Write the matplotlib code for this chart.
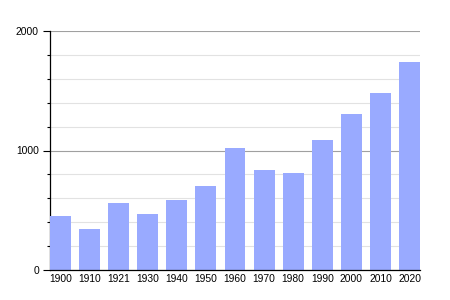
import matplotlib
matplotlib.use("Agg")
import matplotlib.pyplot as plt
from matplotlib.ticker import MultipleLocator

years = ['1900', '1910', '1921', '1930', '1940', '1950', '1960',
         '1970', '1980', '1990', '2000', '2010', '2020']
population = [452, 344, 561, 469, 586, 705, 1019, 836, 811, 1086, 1302, 1477, 1744]

plt.rcParams['font.family'] = ['Liberation Sans', 'DejaVu Sans']

fig = plt.figure(figsize=(4.5, 3), dpi=100)
ax = fig.add_axes([50/450, 30/300, 370/450, 239/300])

w = 0.72
x = range(len(years))
ax.bar(x, population, width=w, color='#99aaff', zorder=3)

ax.set_xlim(-w/2, len(years) - 1 + w/2)
ax.set_ylim(0, 2000)
ax.set_xticks(list(x))
ax.set_xticklabels(years, fontsize=7.4)
ax.tick_params(axis='x', length=0, pad=3)

ax.yaxis.set_major_locator(MultipleLocator(1000))
ax.yaxis.set_minor_locator(MultipleLocator(200))
ax.tick_params(axis='y', which='major', length=5, width=0.8, labelsize=7.4, pad=3)
ax.tick_params(axis='y', which='minor', length=2, width=0.8)

ax.grid(axis='y', which='minor', color='#e2e2e2', linewidth=0.8, zorder=0)
ax.grid(axis='y', which='major', color='#a0a0a0', linewidth=0.8, zorder=1)

for s in ['top', 'right']:
    ax.spines[s].set_visible(False)
ax.spines['left'].set_linewidth(0.9)
ax.spines['bottom'].set_linewidth(0.9)
ax.spines['bottom'].set_zorder(4)

fig.savefig('out.png', dpi=100)
